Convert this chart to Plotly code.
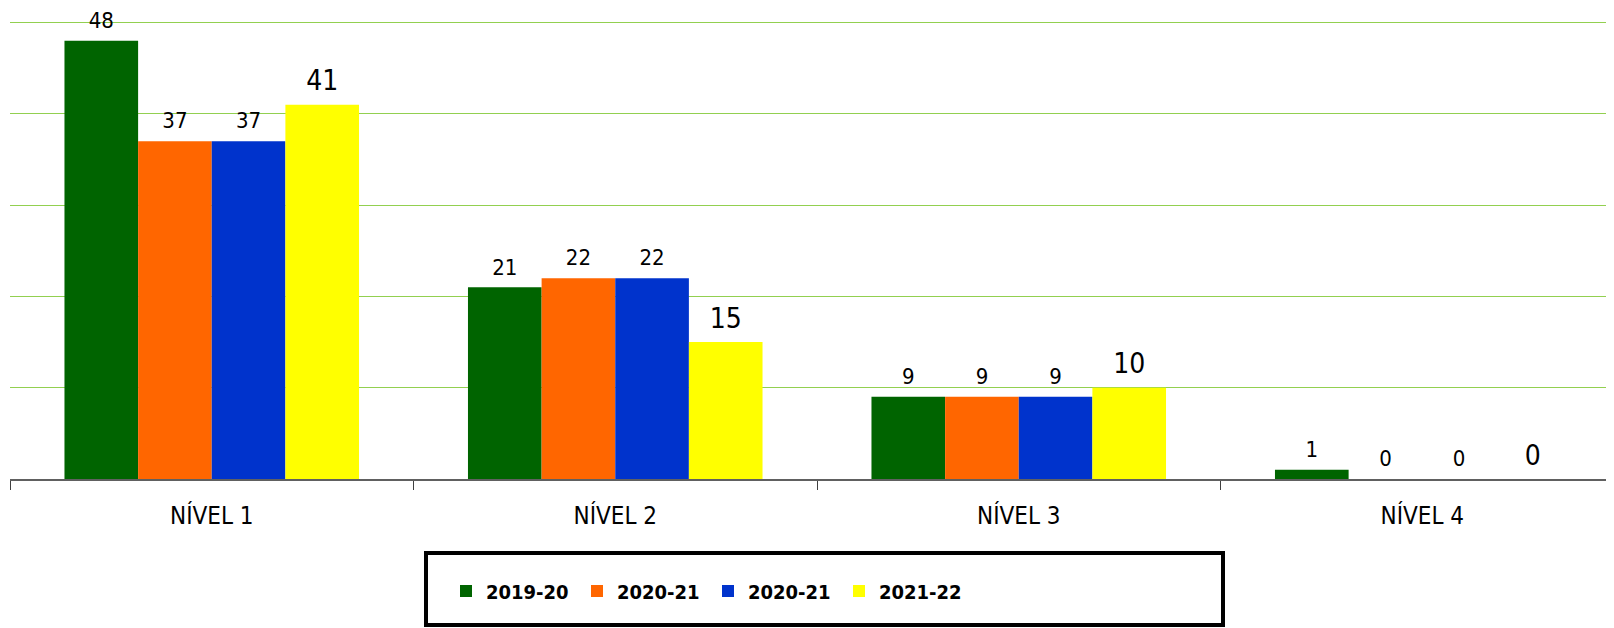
import plotly.graph_objects as go

categories = ["NÍVEL 1", "NÍVEL 2", "NÍVEL 3", "NÍVEL 4"]
series_names = ["2019-20", "2020-21", "2020-21", "2021-22"]
v_2019_20 = [48, 21, 9, 1]
v_2020_21a = [37, 22, 9, 0]
v_2020_21b = [37, 22, 9, 0]
v_2021_22 = [41, 15, 10, 0]
series_values = [v_2019_20, v_2020_21a, v_2020_21b, v_2021_22]
colors = ["#006400", "#FF6600", "#0033CC", "#FFFF00"]
label_sizes = [22, 22, 22, 28]

FONT = "DejaVu Sans Condensed, DejaVu Sans, sans-serif"

fig = go.Figure()
for name, vals, col in zip(series_names, series_values, colors):
    fig.add_trace(go.Bar(
        x=categories, y=vals, name=name,
        marker=dict(color=col, line=dict(width=0)),
        hoverinfo="x+y+name",
    ))
# value labels, grouped like the bars
for name, vals, ls in zip(series_names, series_values, label_sizes):
    fig.add_trace(go.Scatter(
        x=categories, y=vals, mode="markers+text", text=vals,
        textposition="top center", cliponaxis=False,
        marker=dict(size=10, opacity=0), showlegend=False, hoverinfo="skip",
        textfont=dict(family=FONT, size=ls, color="black"),
    ))

# page is offset by the 8px body margin
W, H = 1606, 620
L, T, B = 2, 10, 149
R = 0
pw = W - L - R
ph = H - T - B
cat_w = 403.5

def px_x(px):
    return (px - L) / pw

def px_y(py):
    return (H - B - py) / ph

fig.update_layout(
    width=W, height=H,
    margin=dict(l=L, r=R, t=T, b=B, autoexpand=False),
    paper_bgcolor="white", plot_bgcolor="white",
    barmode="group", bargap=0.27, bargroupgap=0,
    scattermode="group", scattergap=0.27,
    showlegend=True,
    legend=dict(
        orientation="h", xanchor="left", yanchor="middle",
        x=px_x(438), y=px_y(583),
        font=dict(family=FONT, size=20, color="black", weight="bold"),
        entrywidth=86, entrywidthmode="pixels",
        itemwidth=30, bgcolor="rgba(0,0,0,0)", borderwidth=0,
    ),
    xaxis=dict(
        type="category", range=[-0.5, -0.5 + pw / cat_w],
        showline=True, linecolor="#606060", linewidth=2,
        ticks="outside", tickson="boundaries", ticklen=9, tickcolor="#404040", tickwidth=1,
        tickfont=dict(family=FONT, size=24, color="black"),
        ticklabelstandoff=14,
        showgrid=False, fixedrange=True,
    ),
    yaxis=dict(
        range=[0, 50.5], dtick=10, showgrid=True, gridcolor="#92D050", gridwidth=1,
        showticklabels=False, zeroline=False, showline=False, ticks="",
    ),
    shapes=[dict(
        type="rect", xref="paper", yref="paper",
        x0=px_x(418), x1=px_x(1215), y0=px_y(545), y1=px_y(617),
        line=dict(color="black", width=4), fillcolor="rgba(0,0,0,0)", layer="above",
    )],
)

fig.write_html("out.html")
